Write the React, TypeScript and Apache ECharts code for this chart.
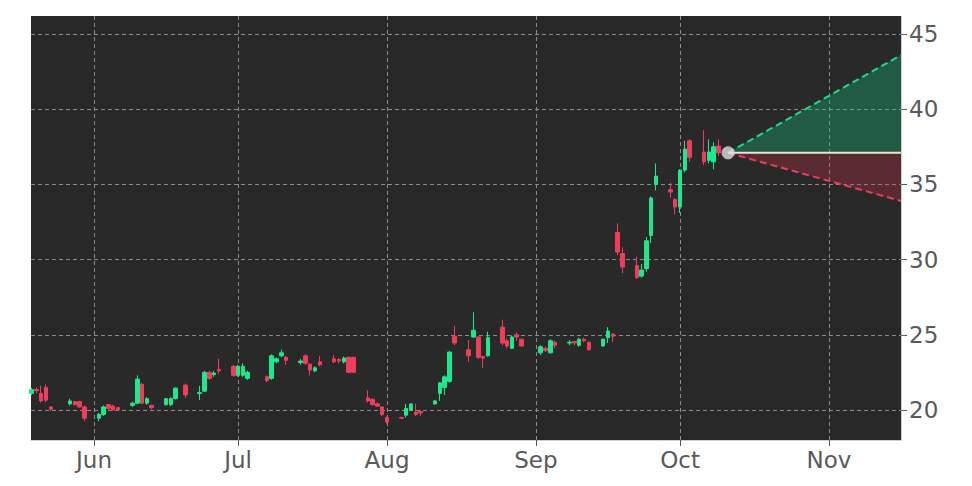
import React, { useEffect, useRef } from 'react';
import * as echarts from 'echarts';

// [date, open, close, low, high]
const candles: [string, number, number, number, number][] = [
  ['2025-05-19', 21.1, 21.35, 21.0, 21.45],
  ['2025-05-20', 21.35, 21.28, 21.1, 21.5],
  ['2025-05-21', 21.1, 20.6, 20.5, 21.6],
  ['2025-05-22', 21.5, 20.65, 20.5, 21.7],
  ['2025-05-23', 20.2, 20.05, 19.95, 20.25],
  ['2025-05-27', 20.4, 20.6, 20.3, 20.75],
  ['2025-05-28', 20.55, 20.35, 20.3, 20.6],
  ['2025-05-29', 20.55, 20.2, 20.15, 20.6],
  ['2025-05-30', 20.2, 19.45, 19.25, 20.3],
  ['2025-06-02', 19.45, 19.7, 19.25, 19.8],
  ['2025-06-03', 19.7, 20.2, 19.6, 20.3],
  ['2025-06-04', 20.35, 20.1, 20.0, 20.4],
  ['2025-06-05', 20.25, 20.0, 19.95, 20.35],
  ['2025-06-06', 20.15, 20.0, 19.95, 20.2],
  ['2025-06-09', 20.3, 20.45, 20.2, 20.55],
  ['2025-06-10', 20.45, 22.05, 20.4, 22.3],
  ['2025-06-11', 21.7, 20.45, 20.4, 21.8],
  ['2025-06-12', 20.45, 20.75, 20.35, 20.85],
  ['2025-06-13', 20.3, 20.15, 20.05, 20.35],
  ['2025-06-16', 20.35, 20.75, 20.3, 20.8],
  ['2025-06-17', 20.35, 20.75, 20.25, 20.85],
  ['2025-06-18', 20.75, 21.45, 20.7, 21.5],
  ['2025-06-20', 21.65, 21.0, 20.8, 21.75],
  ['2025-06-23', 21.1, 21.15, 20.65, 21.6],
  ['2025-06-24', 21.25, 22.5, 21.2, 22.6],
  ['2025-06-25', 22.5, 22.1, 22.0, 22.6],
  ['2025-06-26', 22.35, 22.45, 22.2, 22.6],
  ['2025-06-27', 22.7, 22.6, 22.4, 23.4],
  ['2025-06-30', 22.9, 22.3, 22.2, 23.0],
  ['2025-07-01', 22.3, 22.9, 22.2, 23.0],
  ['2025-07-02', 22.3, 22.9, 22.2, 23.1],
  ['2025-07-03', 22.1, 22.5, 22.0, 22.6],
  ['2025-07-07', 22.2, 21.95, 21.85, 22.3],
  ['2025-07-08', 22.1, 23.6, 22.0, 23.7],
  ['2025-07-09', 23.2, 23.4, 23.1, 23.5],
  ['2025-07-10', 23.6, 23.8, 23.5, 24.0],
  ['2025-07-11', 23.5, 23.3, 23.0, 23.6],
  ['2025-07-14', 23.15, 23.25, 23.0, 23.4],
  ['2025-07-15', 23.6, 23.1, 23.0, 23.7],
  ['2025-07-16', 23.05, 22.65, 22.3, 23.1],
  ['2025-07-17', 22.6, 22.8, 22.5, 22.9],
  ['2025-07-18', 23.2, 23.0, 22.9, 23.6],
  ['2025-07-21', 23.4, 23.2, 23.1, 23.65],
  ['2025-07-22', 23.35, 23.25, 23.1, 23.45],
  ['2025-07-23', 23.2, 23.45, 23.1, 23.55],
  ['2025-07-24', 23.5, 22.5, 22.45, 23.55],
  ['2025-07-25', 23.5, 22.5, 22.45, 23.55],
  ['2025-07-28', 20.8, 20.6, 20.5, 21.3],
  ['2025-07-29', 20.7, 20.35, 20.3, 20.8],
  ['2025-07-30', 20.4, 20.25, 20.2, 20.5],
  ['2025-07-31', 20.2, 19.7, 19.6, 20.25],
  ['2025-08-01', 19.5, 19.2, 19.1, 19.55],
  ['2025-08-04', 19.5, 19.45, 19.4, 19.55],
  ['2025-08-05', 19.65, 20.1, 19.5, 20.4],
  ['2025-08-06', 20.0, 20.4, 19.95, 20.45],
  ['2025-08-07', 19.85, 19.7, 19.6, 20.4],
  ['2025-08-08', 19.9, 19.8, 19.6, 19.95],
  ['2025-08-11', 20.4, 20.6, 20.35, 20.65],
  ['2025-08-12', 21.1, 21.8, 20.6, 21.85],
  ['2025-08-13', 21.5, 22.2, 21.0, 22.3],
  ['2025-08-14', 21.9, 23.85, 21.8, 23.9],
  ['2025-08-15', 24.9, 24.45, 24.3, 25.6],
  ['2025-08-18', 24.0, 23.6, 23.2, 24.65],
  ['2025-08-19', 24.85, 25.3, 24.8, 26.5],
  ['2025-08-20', 24.85, 23.5, 23.4, 24.9],
  ['2025-08-21', 23.55, 23.45, 22.8, 23.6],
  ['2025-08-22', 23.6, 24.8, 23.55, 25.2],
  ['2025-08-25', 25.5, 24.45, 24.3, 26.0],
  ['2025-08-26', 24.6, 24.25, 24.1, 24.75],
  ['2025-08-27', 24.1, 24.85, 24.05, 24.95],
  ['2025-08-28', 25.0, 24.85, 24.6, 25.15],
  ['2025-08-29', 24.7, 24.25, 24.2, 24.75],
  ['2025-09-02', 23.8, 24.2, 23.65, 24.3],
  ['2025-09-03', 24.1, 23.95, 23.85, 24.2],
  ['2025-09-04', 23.8, 24.6, 23.75, 24.7],
  ['2025-09-05', 24.5, 24.3, 24.1, 24.6],
  ['2025-09-08', 24.45, 24.5, 24.3, 24.65],
  ['2025-09-09', 24.55, 24.45, 24.3, 24.6],
  ['2025-09-10', 24.3, 24.7, 24.2, 24.8],
  ['2025-09-11', 24.7, 24.6, 24.5, 24.8],
  ['2025-09-12', 24.5, 24.0, 23.95, 24.55],
  ['2025-09-15', 24.25, 24.7, 24.2, 24.75],
  ['2025-09-16', 24.8, 25.25, 24.45, 25.5],
  ['2025-09-17', 25.05, 24.9, 24.5, 25.1],
  ['2025-09-18', 31.8, 30.5, 30.3, 32.4],
  ['2025-09-19', 30.4, 29.5, 29.1, 30.8],
  ['2025-09-22', 29.6, 28.8, 28.7, 30.2],
  ['2025-09-23', 28.9, 29.3, 28.8, 29.7],
  ['2025-09-24', 29.4, 31.25, 29.2, 31.5],
  ['2025-09-25', 31.6, 34.1, 31.1, 34.2],
  ['2025-09-26', 35.0, 35.55, 34.6, 36.4],
  ['2025-09-29', 34.65, 34.5, 34.1, 35.1],
  ['2025-09-30', 34.0, 33.5, 33.0, 34.1],
  ['2025-10-01', 33.5, 35.95, 33.1, 36.0],
  ['2025-10-02', 35.95, 37.35, 35.8, 37.9],
  ['2025-10-03', 37.9, 36.8, 36.5, 38.0],
  ['2025-10-06', 37.15, 36.5, 36.3, 38.6],
  ['2025-10-07', 36.6, 37.15, 36.4, 38.0],
  ['2025-10-08', 36.5, 37.5, 36.0, 37.8],
  ['2025-10-09', 37.55, 37.1, 36.9, 38.0],
];

const monthTicks = ['2025-06-01', '2025-07-01', '2025-08-01', '2025-09-01', '2025-10-01', '2025-11-01'];
const monthLabels = ['Jun', 'Jul', 'Aug', 'Sep', 'Oct', 'Nov'];
const yTicks = [20, 25, 30, 35, 40, 45];

const forecastStartDate = '2025-10-11';
const forecastStartValue = 37.1;
const forecastEndDate = '2025-11-16';
const forecastHigh = 43.6;
const forecastLow = 33.9;

const xStart = '2025-05-19';
const yMin = 18;
const yMax = 46.2;

const DAY = 86400000;
const ts = (d: string) => new Date(d + 'T00:00:00Z').getTime();

export default function App() {
  const ref = useRef<HTMLDivElement>(null);

  useEffect(() => {
    document.body.style.margin = '0';
    if (!ref.current) return;
    const chart = echarts.init(ref.current, undefined, { renderer: 'svg' });

    const t0 = ts(forecastStartDate);
    const tE = ts(forecastEndDate);
    const monthTs = monthTicks.map(ts);

    const grey = '#595959';
    const gridLine = { show: true, lineStyle: { color: '#8c8c8c', type: [4, 3] as any, width: 1 } };

    const wedge = (fill: string) => (params: any, api: any) => {
      const p0 = api.coord([api.value(0), api.value(1)]);
      const p1 = api.coord([api.value(2), api.value(3)]);
      const p2 = api.coord([api.value(2), api.value(1)]);
      return {
        type: 'polygon',
        shape: { points: [p0, p1, p2] },
        style: { fill },
      };
    };

    chart.setOption({
      animation: false,
      backgroundColor: '#ffffff',
      grid: {
        left: 31,
        right: 71,
        top: 16,
        bottom: 46,
        show: true,
        backgroundColor: '#292929',
        borderWidth: 0,
      },
      xAxis: {
        type: 'value',
        scale: true,
        min: ts(xStart) - 0.12 * DAY,
        max: tE,
        axisLine: { show: true, onZero: false, lineStyle: { color: '#cfcfcf', width: 1 } },
        axisTick: { show: true, customValues: monthTs, length: 6, lineStyle: { color: grey } },
        axisLabel: {
          customValues: monthTs,
          color: grey,
          fontSize: 23,
          fontFamily: 'DejaVu Sans',
          margin: 8,
          formatter: (v: number) => {
            const i = monthTs.indexOf(v);
            return i >= 0 ? monthLabels[i] : '';
          },
        },
        splitLine: gridLine,
      },
      yAxis: {
        type: 'value',
        position: 'right',
        min: yMin,
        max: yMax,
        axisLine: { show: true, onZero: false, lineStyle: { color: '#cfcfcf', width: 1 } },
        axisTick: { show: true, customValues: yTicks, length: 6, lineStyle: { color: grey } },
        axisLabel: {
          customValues: yTicks,
          color: grey,
          fontSize: 23,
          fontFamily: 'DejaVu Sans',
          margin: 8,
        },
        splitLine: gridLine,
      },
      series: [
        {
          type: 'candlestick',
          barWidth: 4,
          data: candles.map((c) => [ts(c[0]), c[1], c[2], c[3], c[4]]),
          encode: { x: 0, y: [1, 2, 3, 4] },
          itemStyle: {
            color: '#1ee88c',
            color0: '#f03d5c',
            borderColor: '#1ee88c',
            borderColor0: '#f03d5c',
            borderWidth: 1,
          },
          z: 3,
        },
        {
          type: 'custom',
          silent: true,
          renderItem: wedge('rgba(20,210,130,0.30)'),
          encode: { x: [0, 2], y: [1, 3] },
          data: [[t0, forecastStartValue, tE, forecastHigh]],
          z: 2,
        },
        {
          type: 'custom',
          silent: true,
          renderItem: wedge('rgba(220,50,70,0.28)'),
          encode: { x: [0, 2], y: [1, 3] },
          data: [[t0, forecastStartValue, tE, forecastLow]],
          z: 2,
        },
        {
          type: 'line',
          symbol: 'none',
          lineStyle: { color: '#1fd98c', width: 2, type: [7, 4] as any },
          data: [[t0, forecastStartValue], [tE, forecastHigh]],
          z: 4,
        },
        {
          type: 'line',
          symbol: 'none',
          lineStyle: { color: '#ee3b5e', width: 2, type: [7, 4] as any },
          data: [[t0, forecastStartValue], [tE, forecastLow]],
          z: 4,
        },
        {
          type: 'line',
          symbol: 'none',
          lineStyle: { color: '#e4e4e4', width: 2 },
          data: [[t0, forecastStartValue], [tE, forecastStartValue]],
          z: 5,
        },
        {
          type: 'scatter',
          symbol: 'circle',
          symbolSize: 13,
          itemStyle: { color: '#dddddd' },
          data: [[t0, forecastStartValue]],
          z: 6,
        },
      ],
    });

    return () => chart.dispose();
  }, []);

  return <div ref={ref} style={{ width: 972, height: 486 }} />;
}
